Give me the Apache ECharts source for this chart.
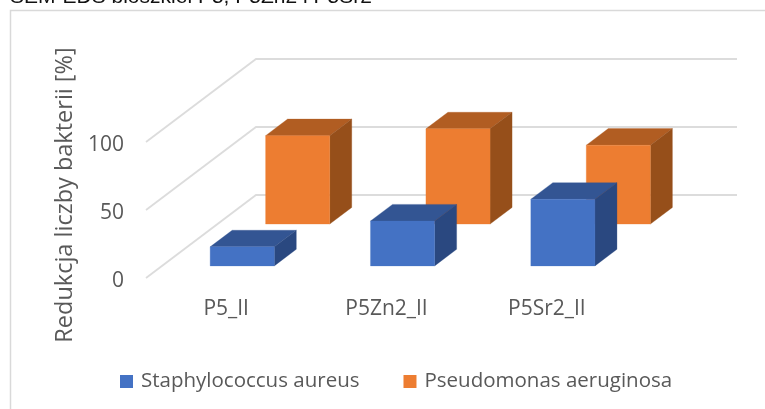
<!DOCTYPE html>
<html>
<head>
<meta charset="utf-8">
<style>html,body{margin:0;padding:0;background:#fff}#c{width:765px;height:409px}</style>
<script src="https://cdn.jsdelivr.net/npm/echarts@6/dist/echarts.min.js"></script>
</head>
<body>
<div id="c"></div>
<script>
var categories = ['P5_II', 'P5Zn2_II', 'P5Sr2_II'];
var staphylococcus = [14, 33, 49];
var pseudomonas = [65, 70, 58];
var yTicks = [0, 50, 100];

var FONT = '"Open Sans", sans-serif';
var DX = 110, DY = -83;
var BAR_RATIO = 0.4;

function shifted(p, d) { return [p[0] + d * DX, p[1] + d * DY]; }

function barRenderer(depthStart, depthEnd, front, top, side) {
  return function (params, api) {
    var cat = api.value(0), val = api.value(1);
    var base = api.coord([cat, 0]), head = api.coord([cat, val]);
    var half = api.size([1, 0])[0] * BAR_RATIO / 2;
    var fbl = shifted([base[0] - half, base[1]], depthStart);
    var fbr = shifted([base[0] + half, base[1]], depthStart);
    var ftl = shifted([head[0] - half, head[1]], depthStart);
    var ftr = shifted([head[0] + half, head[1]], depthStart);
    var bbr = shifted([base[0] + half, base[1]], depthEnd);
    var btl = shifted([head[0] - half, head[1]], depthEnd);
    var btr = shifted([head[0] + half, head[1]], depthEnd);
    function poly(pts, c) {
      return { type: 'polygon', shape: { points: pts },
        style: { fill: c, stroke: c, lineWidth: 0.3 } };
    }
    return { type: 'group', children: [
      poly([ftl, btl, btr, ftr], top),
      poly([fbr, ftr, btr, bbr], side),
      poly([fbl, ftl, ftr, fbr], front)
    ]};
  };
}

function wallRenderer(params, api) {
  var p = api.coord([0, api.value(1)]);
  var band = api.size([1, 0])[0];
  var a = [p[0] - band / 2, p[1]];
  var b = shifted(a, 1);
  var c = [b[0] + band * categories.length, b[1]];
  return { type: 'polyline', shape: { points: [a, b, c] },
    style: { fill: 'none', stroke: '#dcdcdc', lineWidth: 1.8 } };
}

function rows(values) {
  return values.map(function (v, i) { return [i, v]; });
}

var chart = echarts.init(document.getElementById('c'), null, { renderer: 'canvas' });
chart.setOption({
  animation: false,
  backgroundColor: '#fff',
  title: {
    text: 'SEM-EDS bioszkieł P5, P5Zn2 i P5Sr2',
    left: 5, top: -18,
    textStyle: { fontFamily: '"Liberation Sans", sans-serif', fontSize: 21, fontWeight: 'normal', color: '#111' }
  },
  grid: { left: 146, top: 142, width: 481, height: 136 },
  xAxis: {
    type: 'category', data: categories,
    axisLine: { show: false }, axisTick: { show: false },
    axisLabel: { color: '#595959', fontFamily: FONT, fontSize: 21, margin: 21 }
  },
  yAxis: {
    type: 'value', min: 0, max: 100, interval: 50,
    splitLine: { show: false }, axisLine: { show: false }, axisTick: { show: false },
    axisLabel: { color: '#595959', fontFamily: FONT, fontSize: 21, margin: 22, verticalAlign: 'top', lineHeight: 6 }
  },
  legend: {
    left: 115, top: 366, itemWidth: 13, itemHeight: 13, itemGap: 44,
    icon: 'rect',
    data: ['Staphylococcus aureus', 'Pseudomonas aeruginosa'],
    textStyle: { color: '#595959', fontFamily: FONT, fontSize: 20.5, padding: [0, 0, 0, 3] }
  },
  graphic: [
    { type: 'polyline', silent: true, z: 0,
      shape: { points: [[10.5, 409], [10.5, 10.5], [765, 10.5]] },
      style: { fill: 'none', stroke: '#d9d9d9', lineWidth: 1.5 } },
    { type: 'text', x: 65, y: 195, rotation: Math.PI / 2,
      style: { text: 'Redukcja liczby bakterii [%]', fill: '#595959', font: '23.5px "Open Sans", sans-serif',
        align: 'center', verticalAlign: 'middle' } }
  ],
  series: [
    { name: 'walls', type: 'custom', data: yTicks.map(function (t) { return [0, t]; }),
      renderItem: wallRenderer, silent: true, z: 1 },
    { name: 'Pseudomonas aeruginosa', type: 'custom', data: rows(pseudomonas),
      encode: { x: 0, y: 1 }, itemStyle: { color: '#ED7D31' }, z: 2,
      renderItem: barRenderer(0.65, 0.85, '#ED7D31', '#B15D22', '#964F1A') },
    { name: 'Staphylococcus aureus', type: 'custom', data: rows(staphylococcus),
      encode: { x: 0, y: 1 }, itemStyle: { color: '#4472C4' }, z: 3,
      renderItem: barRenderer(0.146, 0.346, '#4472C4', '#335593', '#2A4880') }
  ]
});
</script>
</body>
</html>
